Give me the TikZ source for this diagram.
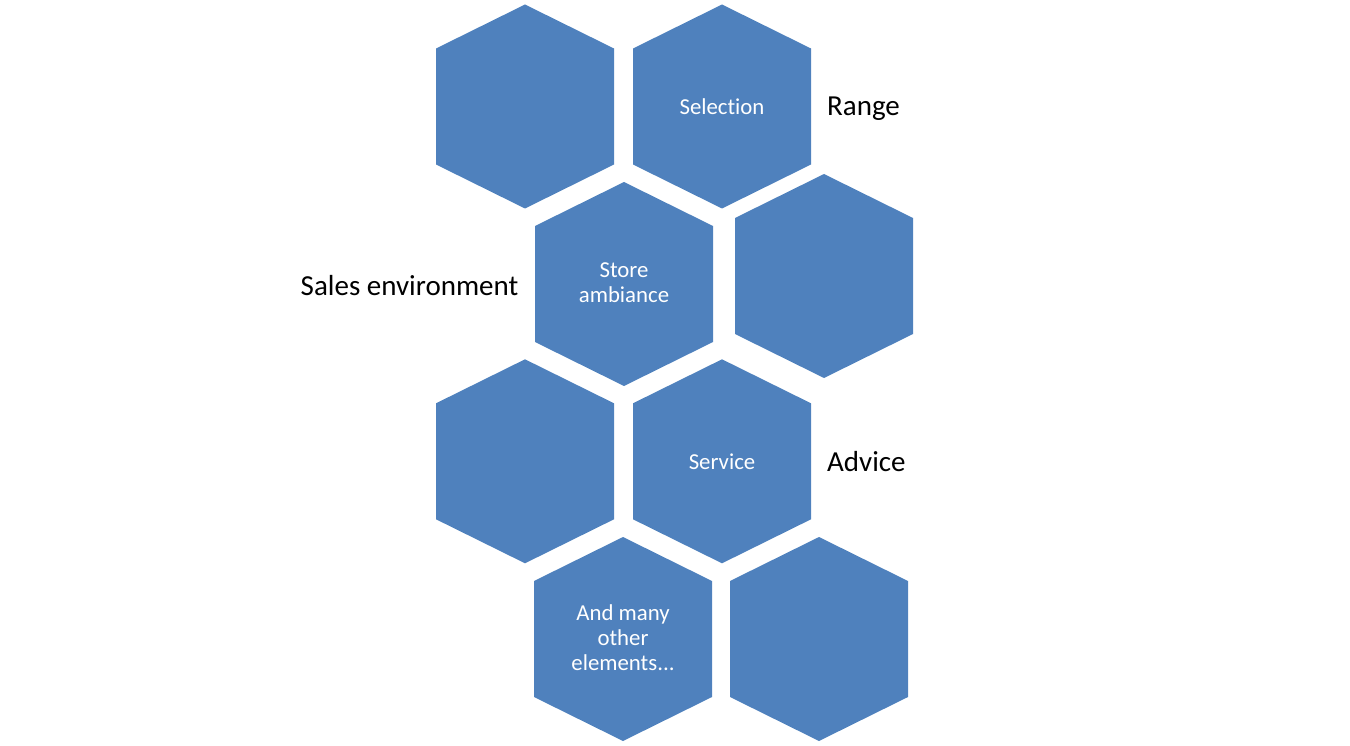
\documentclass[tikz,border=0pt]{standalone}
\usepackage{fontspec}
\setmainfont{Carlito}[Ligatures={NoCommon}]
\usetikzlibrary{calc}
\definecolor{hexblue}{HTML}{4F81BD}
\tikzset{
  hexfill/.style={fill=hexblue},
  hextext/.style={text=white, align=center, inner sep=0pt, font=\fontsize{22.8}{25}\selectfont},
  outlabel/.style={text=black, inner sep=0pt, font=\fontsize{29}{33}\selectfont}
}
\newcommand\hexshape[1]{%
  \fill[hexfill] ([shift={(0,-102)}]#1) -- ([shift={(89,-58)}]#1) -- ([shift={(89,58)}]#1)
    -- ([shift={(0,102)}]#1) -- ([shift={(-89,58)}]#1) -- ([shift={(-89,-58)}]#1) -- cycle;}
\begin{document}
\begin{tikzpicture}[x=1pt,y=-1pt]
\useasboundingbox (0,0) rectangle (1350,746);
\coordinate (c1) at (525,106.5);
\coordinate (c2) at (722,106.5);
\coordinate (c3) at (624,284);
\coordinate (c4) at (824,276);
\coordinate (c5) at (525,461.3);
\coordinate (c6) at (722,461.3);
\coordinate (c7) at (623,639);
\coordinate (c8) at (819,639);
\foreach \c in {c1,c2,c3,c4,c5,c6,c7,c8} {\hexshape{\c}}
\node[hextext] (t2) at (c2) {Selection};
\node[hextext] (t3) at ([yshift=1]c3) {Store\\ambiance};
\node[hextext] (t6) at (c6) {Service};
\node[hextext] (t7) at ([yshift=1]c7) {And many\\other\\elements...};
\node[outlabel, anchor=west] (range) at (827,108.5) {Range};
\node[outlabel, anchor=east] (sales) at (518.5,286) {Sales environment};
\node[outlabel, anchor=west] (advice) at (827,461.5) {Advice};
\end{tikzpicture}
\end{document}
